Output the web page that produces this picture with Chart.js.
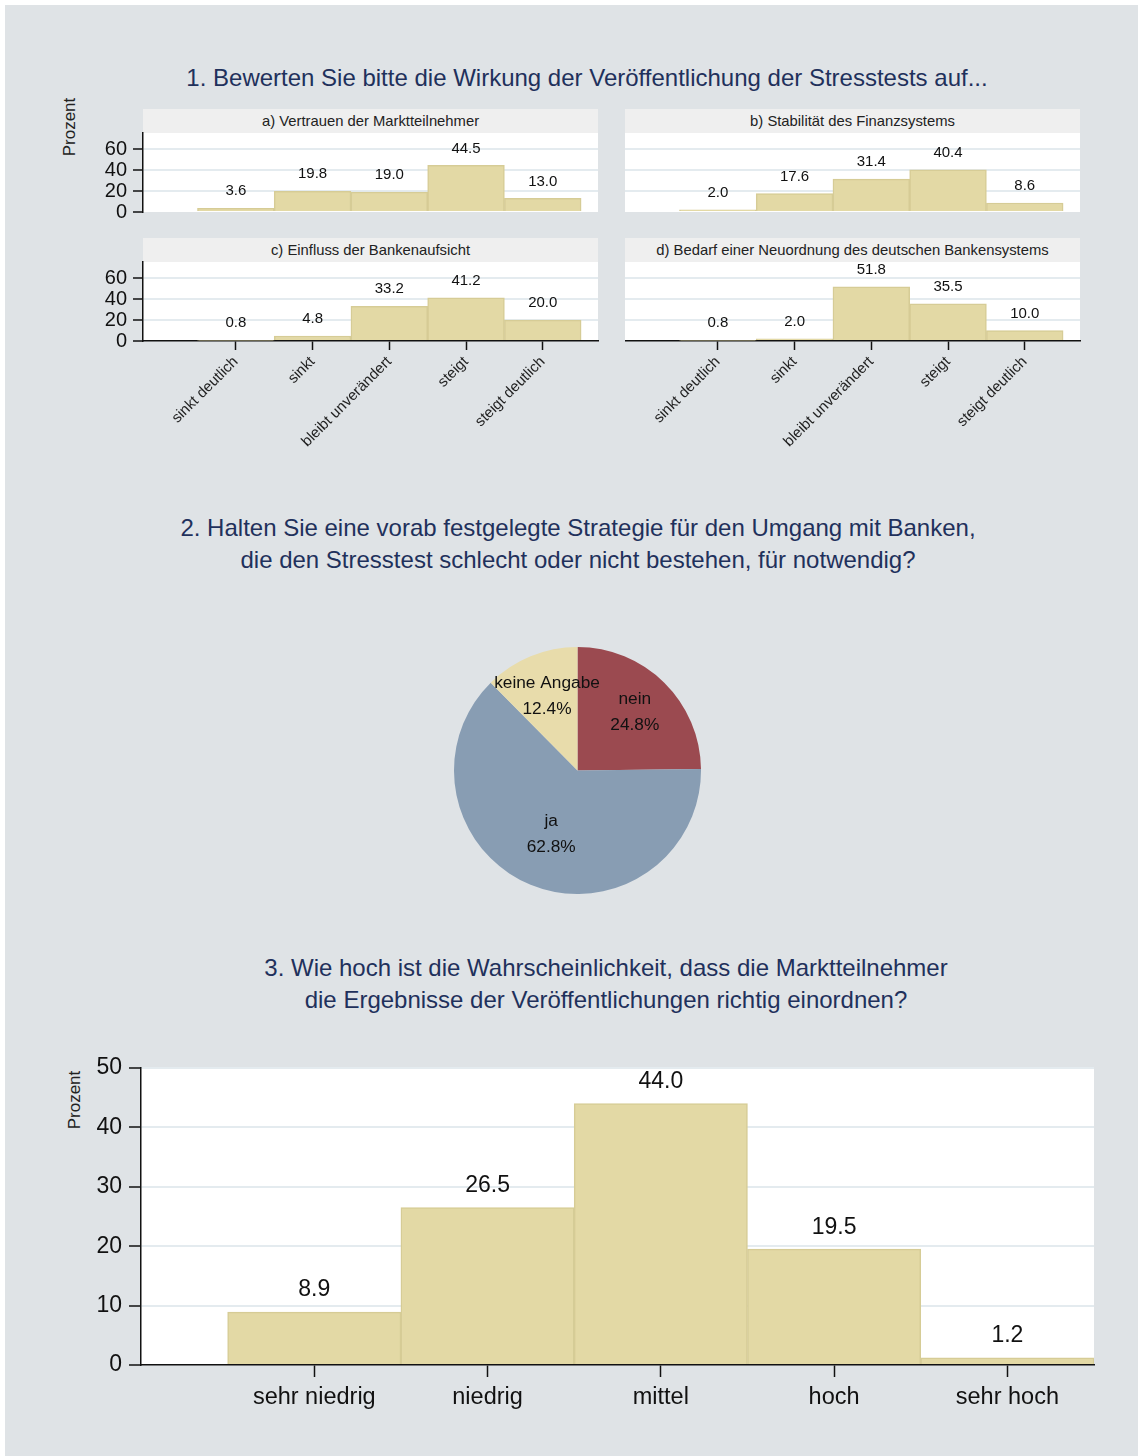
<!DOCTYPE html>
<html lang="de">
<head>
    <meta charset="UTF-8">
    <title>Stresstests – Umfrage</title>
    <script src="https://cdn.jsdelivr.net/npm/chart.js"></script>
    <style>
        body {
            margin: 0;
            background: #ffffff;
            font-family: "Liberation Sans", Arial, sans-serif;
        }

        #frame {
            position: absolute;
            left: 5px;
            top: 5px;
            width: 1133px;
            height: 1451px;
            background: #dfe3e6;
        }

        canvas, .title, .strip, .ylab {
            position: absolute;
        }

        .title {
            color: #1f315c;
            font-size: 24px;
            line-height: 32px;
            text-align: center;
            white-space: nowrap;
            transform: translateX(-50%);
        }

        .strip {
            background: #efefef;
            color: #222;
            font-size: 14.8px;
            line-height: 24px;
            height: 24px;
            width: 455px;
            text-align: center;
        }

        .ylab {
            color: #222;
            font-size: 17px;
            white-space: nowrap;
            transform: translate(-50%, -50%) rotate(-90deg);
        }
    </style>
</head>
<body>
<div id="frame"></div>

<div class="title" style="left:587px; top:62px;">1. Bewerten Sie bitte die Wirkung der Veröffentlichung der Stresstests auf...</div>
<div class="ylab" style="left:70px; top:127px;">Prozent</div>

<div class="strip" id="strip-a" style="left:143px; top:109px;"></div>
<div class="strip" id="strip-b" style="left:625px; top:109px;"></div>
<div class="strip" id="strip-c" style="left:143px; top:238px;"></div>
<div class="strip" id="strip-d" style="left:625px; top:238px;"></div>

<canvas id="panel-a" width="526" height="119" style="left:80px; top:113px;"></canvas>
<canvas id="panel-b" width="463" height="119" style="left:625px; top:113px;"></canvas>
<canvas id="panel-c" width="526" height="219" style="left:80px; top:242px;"></canvas>
<canvas id="panel-d" width="463" height="219" style="left:625px; top:242px;"></canvas>

<div class="title" style="left:578px; top:512px;">2. Halten Sie eine vorab festgelegte Strategie für den Umgang mit Banken,<br>die den Stresstest schlecht oder nicht bestehen, für notwendig?</div>
<canvas id="pie" width="247" height="247" style="left:454px; top:647px;"></canvas>

<div class="title" style="left:606px; top:952px;">3. Wie hoch ist die Wahrscheinlichkeit, dass die Marktteilnehmer<br>die Ergebnisse der Veröffentlichungen richtig einordnen?</div>
<div class="ylab" style="left:75px; top:1100px;">Prozent</div>
<canvas id="prob" width="1054" height="389" style="left:50px; top:1046px;"></canvas>

<script>
    // Frage 1
    const categories = ['sinkt deutlich', 'sinkt', 'bleibt unverändert', 'steigt', 'steigt deutlich'];
    const panelTitles = [
        'a) Vertrauen der Marktteilnehmer',
        'b) Stabilität des Finanzsystems',
        'c) Einfluss der Bankenaufsicht',
        'd) Bedarf einer Neuordnung des deutschen Bankensystems'
    ];
    const vertrauen = [3.6, 19.8, 19.0, 44.5, 13.0];
    const stabilitaet = [2.0, 17.6, 31.4, 40.4, 8.6];
    const aufsicht = [0.8, 4.8, 33.2, 41.2, 20.0];
    const neuordnung = [0.8, 2.0, 51.8, 35.5, 10.0];
    const panelTicks = [0, 20, 40, 60];

    // Frage 2
    const pieLabels = ['nein', 'ja', 'keine Angabe'];
    const pieValues = [24.8, 62.8, 12.4];

    // Frage 3
    const probCategories = ['sehr niedrig', 'niedrig', 'mittel', 'hoch', 'sehr hoch'];
    const probValues = [8.9, 26.5, 44.0, 19.5, 1.2];
    const probTicks = [0, 10, 20, 30, 40, 50];

    const FONT = '"Liberation Sans", Arial, sans-serif';
    const BAR_FILL = '#e3d9a5';
    const BAR_LINE = '#d6cc96';
    const GRID = '#e4ebef';

    Chart.defaults.font.family = FONT;
    Chart.defaults.color = '#111';
    Chart.defaults.animation = false;

    const plotBackground = {
        id: 'plotBackground',
        beforeDraw(chart) {
            const a = chart.chartArea;
            const ctx = chart.ctx;
            ctx.save();
            ctx.fillStyle = '#ffffff';
            ctx.fillRect(a.left, a.top, a.right - a.left, a.bottom - a.top);
            ctx.restore();
        }
    };

    const valueLabels = {
        id: 'valueLabels',
        afterDatasetsDraw(chart, args, opts) {
            const ctx = chart.ctx;
            const data = chart.data.datasets[0].data;
            ctx.save();
            ctx.font = opts.size + 'px ' + FONT;
            ctx.fillStyle = '#111';
            ctx.textAlign = 'center';
            ctx.textBaseline = 'middle';
            chart.getDatasetMeta(0).data.forEach((bar, i) => {
                ctx.fillText(data[i].y.toFixed(1), bar.x, bar.y - opts.offset);
            });
            ctx.restore();
        }
    };

    // labels sit inside the slices, two lines: name and percentage
    const pieText = {
        id: 'pieText',
        afterDatasetsDraw(chart, args, opts) {
            const ctx = chart.ctx;
            ctx.save();
            ctx.font = opts.size + 'px ' + FONT;
            ctx.fillStyle = '#111';
            ctx.textAlign = 'center';
            ctx.textBaseline = 'middle';
            chart.getDatasetMeta(0).data.forEach((arc, i) => {
                const mid = (arc.startAngle + arc.endAngle) / 2;
                const r = arc.outerRadius * opts.radius[i];
                const x = arc.x + Math.cos(mid) * r;
                const y = arc.y + Math.sin(mid) * r;
                ctx.fillText(chart.data.labels[i], x, y - opts.lineGap / 2);
                ctx.fillText(pieValues[i].toFixed(1) + '%', x, y + opts.lineGap / 2);
            });
            ctx.restore();
        }
    };

    function toPoints(values) {
        return values.map((v, i) => ({x: i + 1, y: v}));
    }

    function panelChart(id, values, showY, showX) {
        const ctx = document.getElementById(id).getContext('2d');
        return new Chart(ctx, {
            type: 'bar',
            data: {
                datasets: [{
                    data: toPoints(values),
                    backgroundColor: BAR_FILL,
                    borderColor: BAR_LINE,
                    borderWidth: 1.5,
                    borderSkipped: 'bottom',
                    barPercentage: 1,
                    categoryPercentage: 1
                }]
            },
            options: {
                responsive: false,
                layout: {padding: {top: 20, right: 8, bottom: showX ? 0 : 20, left: 0}},
                plugins: {
                    legend: {display: false},
                    tooltip: {enabled: false},
                    valueLabels: {size: 15, offset: 17}
                },
                scales: {
                    x: {
                        type: 'linear',
                        offset: false,
                        min: -0.21,
                        max: 5.72,
                        display: showX,
                        afterBuildTicks: axis => {
                            axis.ticks = categories.map((c, i) => ({value: i + 1}));
                        },
                        afterFit: axis => { axis.height = showX ? 120 : 0; },
                        grid: {
                            offset: false,
                            drawOnChartArea: false,
                            tickColor: '#111',
                            tickLength: 9,
                            tickWidth: 1.5
                        },
                        border: {color: '#111', width: 1.5},
                        ticks: {
                            autoSkip: false,
                            maxRotation: 45,
                            minRotation: 45,
                            padding: 3,
                            font: {size: 15},
                            color: '#222',
                            callback: v => categories[v - 1]
                        }
                    },
                    y: {
                        min: 0,
                        max: 75.5,
                        afterBuildTicks: axis => {
                            axis.ticks = panelTicks.map(v => ({value: v}));
                        },
                        afterFit: axis => { axis.width = showY ? 63 : 0; },
                        grid: {
                            color: c => c.tick && c.tick.value === 0 ? 'rgba(0,0,0,0)' : GRID,
                            lineWidth: 2,
                            drawTicks: showY,
                            tickColor: '#111',
                            tickLength: 10,
                            tickWidth: 1.5
                        },
                        border: {display: showY, color: '#111', width: 1.5},
                        ticks: {
                            display: showY,
                            autoSkip: false,
                            padding: 6,
                            font: {size: 20},
                            color: '#111'
                        }
                    }
                }
            },
            plugins: [plotBackground, valueLabels]
        });
    }

    function drawPie() {
        const ctx = document.getElementById('pie').getContext('2d');
        return new Chart(ctx, {
            type: 'pie',
            data: {
                labels: pieLabels,
                datasets: [{
                    data: pieValues,
                    backgroundColor: ['#9b4a50', '#889db3', '#e8dcab'],
                    borderWidth: 0
                }]
            },
            options: {
                responsive: false,
                layout: {padding: 0},
                plugins: {
                    legend: {display: false},
                    tooltip: {enabled: false},
                    pieText: {size: 17.3, radius: [0.66, 0.56, 0.65], lineGap: 26}
                }
            },
            plugins: [pieText]
        });
    }

    function drawProb() {
        const ctx = document.getElementById('prob').getContext('2d');
        return new Chart(ctx, {
            type: 'bar',
            data: {
                datasets: [{
                    data: toPoints(probValues),
                    backgroundColor: BAR_FILL,
                    borderColor: BAR_LINE,
                    borderWidth: 1.5,
                    borderSkipped: 'bottom',
                    barPercentage: 1,
                    categoryPercentage: 1
                }]
            },
            options: {
                responsive: false,
                layout: {padding: {top: 22, right: 10, bottom: 0, left: 0}},
                plugins: {
                    legend: {display: false},
                    tooltip: {enabled: false},
                    valueLabels: {size: 23, offset: 22}
                },
                scales: {
                    x: {
                        type: 'linear',
                        offset: false,
                        min: 0,
                        max: 5.5,
                        afterBuildTicks: axis => {
                            axis.ticks = probCategories.map((c, i) => ({value: i + 1}));
                        },
                        afterFit: axis => { axis.height = 70; },
                        grid: {
                            offset: false,
                            drawOnChartArea: false,
                            tickColor: '#111',
                            tickLength: 12,
                            tickWidth: 1.5
                        },
                        border: {color: '#111', width: 1.5},
                        ticks: {
                            autoSkip: false,
                            maxRotation: 0,
                            padding: 6,
                            font: {size: 23.5},
                            color: '#111',
                            callback: v => probCategories[v - 1]
                        }
                    },
                    y: {
                        min: 0,
                        max: 50,
                        afterBuildTicks: axis => {
                            axis.ticks = probTicks.map(v => ({value: v}));
                        },
                        afterFit: axis => { axis.width = 91; },
                        grid: {
                            color: c => c.tick && c.tick.value === 0 ? 'rgba(0,0,0,0)' : GRID,
                            lineWidth: 2,
                            tickColor: '#111',
                            tickLength: 12,
                            tickWidth: 1.5
                        },
                        border: {color: '#111', width: 1.5},
                        ticks: {
                            autoSkip: false,
                            padding: 7,
                            font: {size: 23},
                            color: '#111'
                        }
                    }
                }
            },
            plugins: [plotBackground, valueLabels]
        });
    }

    function init() {
        ['strip-a', 'strip-b', 'strip-c', 'strip-d'].forEach((id, i) => {
            document.getElementById(id).textContent = panelTitles[i];
        });
        panelChart('panel-a', vertrauen, true, false);
        panelChart('panel-b', stabilitaet, false, false);
        panelChart('panel-c', aufsicht, true, true);
        panelChart('panel-d', neuordnung, false, true);
        drawPie();
        drawProb();
    }

    document.addEventListener('DOMContentLoaded', init);
</script>
</body>
</html>
